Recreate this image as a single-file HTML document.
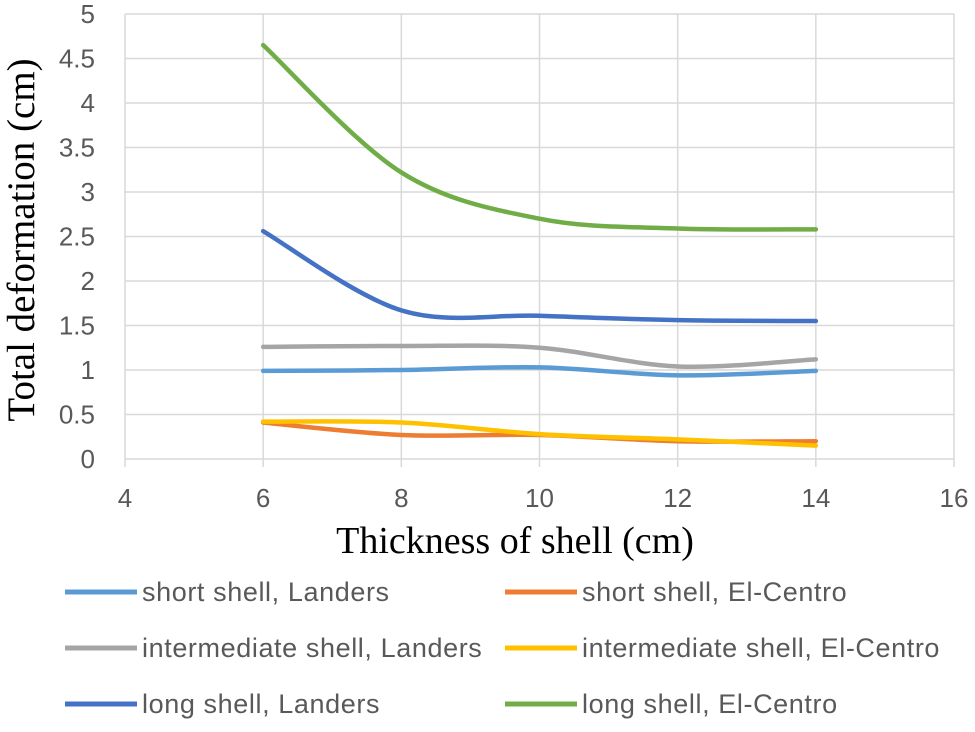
<!DOCTYPE html>
<html><head><meta charset="utf-8"><style>
body{margin:0;background:#fff}
svg text{font-family:"Liberation Sans",sans-serif}
</style></head><body>
<svg width="975" height="727" viewBox="0 0 975 727">
<g id="grid"></g>
<g id="axes"></g>
<g id="series"></g>
<text x="515" y="553" text-anchor="middle" font-size="38" style="font-family:'Liberation Serif',serif" fill="#000">Thickness of shell (cm)</text>
<text transform="translate(34,240) rotate(-90)" text-anchor="middle" font-size="39" style="font-family:'Liberation Serif',serif" fill="#000">Total deformation (cm)</text>
<g id="legend"></g>
</svg>
<script>
const xValues=[6,8,10,12,14];
const seriesNames=["short shell, Landers","short shell, El-Centro","intermediate shell, Landers","intermediate shell, El-Centro","long shell, Landers","long shell, El-Centro"];
const shortLanders=[0.99,1.0,1.03,0.94,0.99];
const shortElCentro=[0.41,0.27,0.27,0.2,0.2];
const interLanders=[1.26,1.27,1.25,1.04,1.12];
const interElCentro=[0.42,0.41,0.28,0.22,0.15];
const longLanders=[2.56,1.67,1.61,1.56,1.55];
const longElCentro=[4.65,3.22,2.7,2.59,2.58];
const xTicks=[4,6,8,10,12,14,16];
const yTicks=[0,0.5,1,1.5,2,2.5,3,3.5,4,4.5,5];
const colors=["#5B9BD5","#ED7D31","#A5A5A5","#FFC000","#4472C4","#70AD47"];
const allSeries=[shortLanders,shortElCentro,interLanders,interElCentro,longLanders,longElCentro];
const NS="http://www.w3.org/2000/svg";
const X0=125,X1=954,Y0=459,Y1=14;
const sx=v=>X0+(v-4)/12*(X1-X0);
const sy=v=>Y0-v/5*(Y0-Y1);
function mk(t,a,p){const e=document.createElementNS(NS,t);for(const k in a)e.setAttribute(k,a[k]);p.appendChild(e);return e;}
const grid=document.getElementById('grid'),axes=document.getElementById('axes'),ser=document.getElementById('series'),leg=document.getElementById('legend');
yTicks.forEach(v=>{
 const l=mk('line',{x1:X0,x2:X1,y1:sy(v),y2:sy(v),stroke:'#d9d9d9','stroke-width':1.5},grid);
 
 
 const t=mk('text',{x:95,y:sy(v)+9,'text-anchor':'end','font-size':26,fill:'#595959'},axes);
 t.textContent=v;
 
 
});
xTicks.forEach(v=>{
 const l=mk('line',{x1:sx(v),x2:sx(v),y1:Y1,y2:Y0+8,stroke:'#d9d9d9','stroke-width':1.5},grid);
 
 
 const t=mk('text',{x:sx(v),y:507,'text-anchor':'middle','font-size':26,fill:'#595959'},axes);
 t.textContent=v;
 
 
});
function path(xs,ys){
 const p=xs.map((x,i)=>[sx(x),sy(ys[i])]);
 let d='M'+p[0][0]+','+p[0][1];
 for(let i=0;i<p.length-1;i++){
  const p0=p[Math.max(i-1,0)],p1=p[i],p2=p[i+1],p3=p[Math.min(i+2,p.length-1)];
  const c1=[p1[0]+(p2[0]-p0[0])/6,p1[1]+(p2[1]-p0[1])/6];
  const c2=[p2[0]-(p3[0]-p1[0])/6,p2[1]-(p3[1]-p1[1])/6];
  d+=` C${c1[0]},${c1[1]} ${c2[0]},${c2[1]} ${p2[0]},${p2[1]}`;
 }
 return d;
}
allSeries.forEach((s,i)=>{
 const e=mk('path',{d:path(xValues,s),fill:'none',stroke:colors[i],'stroke-width':4.5,'stroke-linecap':'round'},ser);
 
 
});
seriesNames.forEach((n,i)=>{
 const col=i%2,row=Math.floor(i/2);
 const lx=col?505:65,y=592+row*56;
 const l=mk('line',{x1:lx,x2:lx+72,y1:y,y2:y,stroke:colors[i],'stroke-width':5},leg);
 
 
 const t=mk('text',{x:lx+77,y:y+9,'font-size':27,'letter-spacing':0.6,fill:'#595959'},leg);
 t.textContent=n;
 
 
});
</script>
</body></html>
